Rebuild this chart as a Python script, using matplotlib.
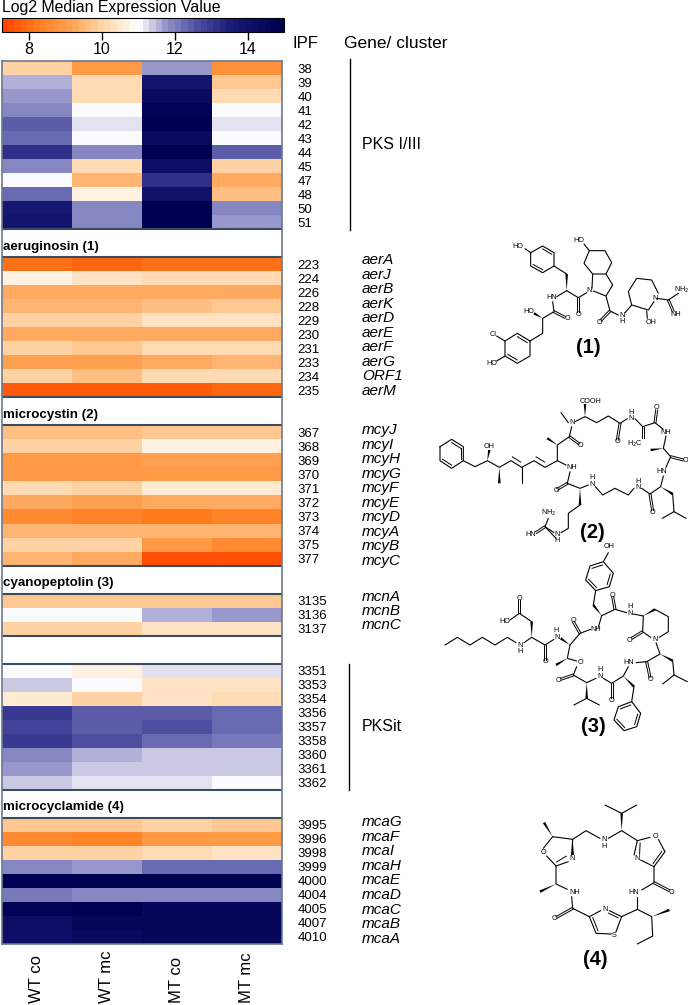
import numpy as np
import matplotlib
matplotlib.use("Agg")
import matplotlib.pyplot as plt
from matplotlib.colors import LinearSegmentedColormap, Normalize

plt.rcParams['font.family'] = ['Liberation Sans', 'DejaVu Sans']

conditions = ['WT co', 'WT mc', 'MT co', 'MT mc']

ipf_pks = ['38', '39', '40', '41', '42', '43', '44', '45', '47', '48', '50', '51']
pks = [[9.95, 9.0, 11.7, 8.7],
       [11.55, 10.1, 13.9, 9.8],
       [11.65, 10.1, 14.3, 10.2],
       [11.95, 11.0, 14.8, 11.0],
       [12.5, 11.2, 14.9, 11.2],
       [12.35, 11.0, 14.4, 11.0],
       [13.1, 11.9, 15.0, 12.4],
       [11.9, 10.2, 14.2, 10.0],
       [11.0, 9.4, 13.2, 9.3],
       [12.2, 10.6, 14.0, 9.7],
       [13.6, 11.9, 15.0, 11.9],
       [13.9, 12.0, 15.0, 11.7]]

ipf_aer = ['223', '224', '226', '228', '229', '230', '231', '233', '234', '235']
genes_aer = ['aerA', 'aerJ', 'aerB', 'aerK', 'aerD', 'aerE', 'aerF', 'aerG', 'ORF1', 'aerM']
aer = [[8.0, 7.9, 8.0, 8.0],
       [10.7, 10.4, 10.15, 10.15],
       [9.25, 9.2, 9.3, 9.3],
       [9.5, 9.5, 9.6, 9.75],
       [10.0, 9.95, 10.4, 10.4],
       [9.25, 9.2, 9.35, 9.35],
       [9.9, 9.8, 10.15, 10.15],
       [9.15, 9.15, 9.3, 9.4],
       [9.9, 9.7, 10.2, 10.2],
       [7.7, 7.7, 7.7, 7.8]]

ipf_mcy = ['367', '368', '369', '370', '371', '372', '373', '374', '375', '377']
genes_mcy = ['mcyJ', 'mcyI', 'mcyH', 'mcyG', 'mcyF', 'mcyE', 'mcyD', 'mcyA', 'mcyB', 'mcyC']
mcy = [[9.7, 9.55, 9.8, 9.8],
       [10.0, 10.0, 10.7, 10.7],
       [8.95, 8.9, 9.1, 9.1],
       [8.9, 8.9, 8.95, 8.9],
       [10.1, 9.9, 10.5, 10.45],
       [9.3, 9.1, 9.35, 9.35],
       [8.5, 8.4, 8.2, 8.4],
       [9.45, 9.45, 9.4, 9.4],
       [10.0, 10.0, 8.9, 8.6],
       [9.5, 9.35, 7.5, 7.5]]

ipf_mcn = ['3135', '3136', '3137']
genes_mcn = ['mcnA', 'mcnB', 'mcnC']
mcn = [[9.85, 9.85, 9.85, 9.85],
       [11.0, 11.0, 11.55, 11.7],
       [9.9, 9.9, 10.25, 10.25]]

ipf_pksit = ['3351', '3353', '3354', '3356', '3357', '3358', '3360', '3361', '3362']
pksit = [[11.0, 10.75, 11.2, 11.2],
         [11.35, 11.0, 10.4, 10.25],
         [10.45, 10.05, 10.3, 10.1],
         [13.0, 12.5, 12.5, 12.3],
         [12.75, 12.4, 12.55, 12.3],
         [13.0, 12.6, 12.3, 12.15],
         [11.9, 11.55, 11.45, 11.45],
         [11.75, 11.45, 11.45, 11.35],
         [11.3, 11.15, 11.15, 11.0]]

ipf_mca = ['3995', '3996', '3998', '3999', '4000', '4004', '4005', '4007', '4010']
genes_mca = ['mcaG', 'mcaF', 'mcaI', 'mcaH', 'mcaE', 'mcaD', 'mcaC', 'mcaB', 'mcaA']
mca = [[9.8, 9.75, 10.0, 9.85],
       [8.6, 8.4, 8.85, 8.95],
       [10.05, 10.05, 10.1, 10.3],
       [11.85, 11.75, 12.2, 12.3],
       [15.0, 15.0, 15.0, 15.0],
       [12.15, 12.0, 12.0, 12.0],
       [14.8, 14.9, 14.6, 14.6],
       [14.2, 14.5, 14.6, 14.6],
       [14.2, 14.4, 14.5, 14.5]]

blocks = [pks, aer, mcy, mcn, pksit, mca]
block_ipf = [ipf_pks, ipf_aer, ipf_mcy, ipf_mcn, ipf_pksit, ipf_mca]
block_titles = [None, 'aeruginosin (1)', 'microcystin (2)', 'cyanopeptolin (3)', None, 'microcyclamide (4)']
spacer_rows = 2

cmap_stops = [(7.24, '#ff4400'), (8.1, '#ff7a1a'), (9.05, '#ffa050'), (10.0, '#ffd5a8'),
              (11.0, '#ffffff'), (11.8, '#9090c8'), (12.7, '#4a4a9f'), (13.6, '#1a1a78'),
              (15.0, '#000050')]

# chemical structures, in px of a 3x crop: bonds, double bonds, inner lines of
# double bonds in a ring (with the ring centre), wedges, atom labels
struct_1_bonds = [[(302, 68), (338, 48), (372, 68), (372, 108), (338, 128), (302, 108), (302, 68)],
                  [(285, 56), (302, 68)], [(372, 108), (410, 132)], [(410, 182), (380, 200)],
                  [(368, 215), (372, 245), (338, 265), (338, 310), (300, 333)],
                  [(300, 333), (262, 310), (225, 333), (225, 378), (262, 400), (300, 378), (300, 333)],
                  [(200, 318), (225, 333)], [(200, 393), (225, 378)],
                  [(410, 182), (445, 203), (470, 188)],
                  [(486, 175), (488, 132), (528, 132), (548, 165), (528, 198), (490, 183)],
                  [(488, 132), (462, 100), (478, 62), (525, 62), (545, 98), (528, 132)],
                  [(462, 42), (478, 62)],
                  [(528, 198), (540, 243), (565, 255)],
                  [(585, 248), (605, 225), (595, 185), (620, 145), (665, 150), (685, 190)],
                  [(672, 215), (655, 240), (605, 225)],
                  [(650, 243), (652, 265)], [(680, 205), (715, 210), (745, 190)]]
struct_1_doubles = [[(372, 245), (405, 262)], [(445, 203), (445, 245)], [(540, 243), (512, 272)],
                    [(715, 210), (730, 245)]]
struct_1_inner = [[(302, 108), (338, 128), (338, 88)], [(338, 48), (372, 68), (338, 88)],
                  [(262, 310), (300, 333), (262, 355)], [(225, 378), (262, 400), (262, 355)]]
struct_1_wedges = [[(410, 182), (410, 132)], [(338, 265), (312, 250)]]
struct_1_labels = [('HO', 262, 50), ('HO', 445, 30), ('HN', 365, 203), ('HO', 295, 245), ('O', 412, 265),
                   ('O', 445, 252), ('N', 478, 182), ('O', 508, 278), ('N', 575, 255), ('H', 575, 275),
                   ('N', 675, 204), ('OH', 662, 278), ('NH$_2$', 755, 180), ('NH', 738, 253),
                   ('Cl', 188, 312), ('HO', 185, 400)]

struct_2_bonds = [[(30, 650), (65, 628), (100, 650), (100, 692), (65, 715), (30, 692), (30, 650)],
                  [(100, 692), (135, 710), (172, 692), (208, 712), (243, 692), (275, 712), (312, 692),
                   (345, 712), (382, 692), (408, 705)],
                  [(275, 712), (275, 760)], [(382, 692), (382, 645), (418, 620), (425, 590)],
                  [(415, 578), (393, 548)], [(435, 575), (465, 560), (500, 578), (535, 558), (570, 580), (592, 566)],
                  [(615, 566), (638, 590), (675, 578), (700, 598)], [(708, 618), (700, 655), (722, 680), (708, 712)],
                  [(700, 738), (692, 770), (660, 792), (635, 775)], [(612, 775), (595, 795), (555, 775), (518, 795), (496, 770)],
                  [(475, 765), (450, 775), (412, 760), (420, 725)], [(728, 792), (732, 845), (697, 865)],
                  [(732, 845), (768, 865)], [(450, 825), (415, 850), (415, 895), (393, 908)],
                  [(372, 908), (345, 890), (355, 865)], [(345, 890), (378, 925)]]
struct_2_doubles = [[(570, 580), (562, 630)],
                    [(638, 590), (638, 625)], [(675, 578), (680, 540)], [(722, 680), (760, 690)],
                    [(660, 792), (668, 842)], [(412, 760), (382, 778)], [(418, 620), (448, 642)],
                    [(345, 890), (318, 908)]]
struct_2_inner = [[(30, 692), (65, 715), (65, 672)], [(65, 628), (100, 650), (65, 672)],
                  [(100, 650), (100, 692), (65, 672)],
                  [(243, 692), (275, 712), (262, 640)], [(312, 692), (345, 712), (340, 640)]]
struct_2_wedges = [[(172, 692), (178, 660)], [(208, 712), (208, 760)], [(382, 645), (352, 625)],
                   [(465, 560), (465, 522)], [(700, 655), (662, 660)], [(692, 770), (728, 792)],
                   [(450, 775), (450, 825)]]
struct_2_labels = [('OH', 178, 650), ('COOH', 482, 513), ('N', 425, 578), ('NH', 425, 712), ('O', 452, 645),
                   ('N', 603, 566), ('H', 603, 546), ('O', 562, 635), ('O', 680, 533), ('H$_2$C', 615, 642),
                   ('NH', 708, 606), ('O', 765, 690), ('HN', 695, 725), ('N', 625, 773), ('H', 625, 753),
                   ('O', 668, 848), ('N', 487, 762), ('H', 487, 742), ('O', 378, 782), ('NH$_2$', 355, 850),
                   ('HN', 302, 912), ('N', 382, 912), ('H', 382, 932)]

struct_3_bonds = [[(45, 285), (82, 262), (120, 285), (157, 262), (195, 285), (232, 262), (258, 278)],
                  [(282, 278), (305, 262), (345, 285), (372, 268)], [(305, 215), (268, 190), (240, 210)],
                  [(420, 285), (450, 250), (482, 238)], [(505, 232), (515, 197)], [(490, 165), (497, 122)],
                  [(497, 122), (467, 90), (480, 48), (520, 35), (550, 70), (538, 110), (497, 122)],
                  [(520, 35), (535, 8)], [(515, 197), (555, 178), (590, 188)], [(610, 192), (640, 198)],
                  [(675, 178), (715, 200), (715, 245), (688, 262)], [(662, 262), (638, 245), (640, 198)],
                  [(678, 278), (690, 312), (650, 335), (618, 338)], [(728, 332), (732, 375), (698, 402)],
                  [(732, 375), (772, 395)], [(595, 350), (580, 378), (545, 400), (520, 385)], [(612, 410), (605, 455)],
                  [(605, 455), (632, 490), (620, 530), (582, 542), (552, 510), (565, 470), (605, 455)],
                  [(498, 385), (470, 398), (430, 375), (440, 350)], [(470, 445), (432, 465)], [(470, 445), (508, 465)],
                  [(440, 333), (412, 325), (420, 285)]]
struct_3_doubles = [[(268, 190), (268, 150)], [(345, 285), (345, 330)], [(450, 250), (430, 215)],
                    [(555, 178), (548, 140)], [(638, 245), (605, 265)], [(650, 335), (660, 382)],
                    [(545, 400), (545, 445)], [(430, 375), (392, 388)]]
struct_3_inner = [[(480, 48), (520, 35), (508, 80)], [(467, 90), (497, 122), (508, 80)],
                  [(550, 70), (538, 110), (508, 80)],
                  [(632, 490), (620, 530), (592, 500)], [(552, 510), (582, 542), (592, 500)],
                  [(565, 470), (605, 455), (592, 500)]]
struct_3_wedges = [[(305, 262), (305, 215)], [(420, 285), (392, 265)], [(515, 197), (490, 165)],
                   [(640, 198), (675, 178)], [(690, 312), (728, 332)], [(580, 378), (612, 410)],
                   [(470, 398), (470, 445)], [(412, 325), (378, 345)]]
struct_3_labels = [('N', 270, 285), ('H', 270, 305), ('O', 268, 145), ('HO', 225, 215), ('O', 345, 335),
                   ('N', 382, 262), ('H', 378, 242), ('O', 430, 210), ('NH', 498, 238), ('O', 548, 135),
                   ('N', 600, 190), ('H', 600, 170), ('O', 598, 270), ('N', 675, 268), ('HN', 595, 338),
                   ('O', 660, 388), ('N', 510, 378), ('H', 510, 358), ('O', 545, 452), ('O', 385, 390),
                   ('O', 450, 338), ('OH', 537, -12)]

struct_4_bonds = [[(368, 860), (428, 868), (425, 915)], [(415, 935), (378, 948), (350, 918)], [(340, 895), (368, 860)],
                  [(428, 868), (468, 842), (510, 865)], [(535, 865), (575, 842), (622, 872), (660, 862)],
                  [(525, 765), (575, 790), (620, 765)], [(685, 868), (705, 905), (672, 950), (632, 930)],
                  [(612, 915), (622, 872)], [(672, 950), (672, 998), (635, 1020)], [(622, 1040), (622, 1078)],
                  [(622, 1078), (665, 1100), (668, 1158), (622, 1182)], [(622, 1078), (575, 1100), (558, 1145)],
                  [(545, 1152), (498, 1150), (478, 1100), (512, 1082)], [(538, 1082), (575, 1100)],
                  [(478, 1100), (428, 1075), (425, 1040)], [(412, 1018), (378, 1002), (378, 948)]]
struct_4_doubles = [[(672, 998), (718, 1022)], [(428, 1075), (380, 1102)]]
struct_4_inner = [[(378, 948), (415, 925), (385, 895)], [(705, 905), (672, 950), (660, 905)],
                  [(622, 872), (620, 915), (660, 905)],
                  [(478, 1100), (498, 1150), (525, 1115)], [(538, 1082), (575, 1100), (525, 1115)]]
struct_4_wedges = [[(368, 860), (342, 818)], [(428, 868), (428, 915)], [(575, 842), (575, 790)],
                   [(665, 1100), (718, 1080)], [(378, 1002), (330, 1025)]]
struct_4_labels = [('O', 340, 908), ('N', 425, 925), ('N', 522, 868), ('H', 522, 888), ('O', 675, 860),
                   ('N', 622, 925), ('O', 725, 1027), ('HN', 610, 1028), ('N', 525, 1078), ('S', 552, 1155),
                   ('O', 372, 1105), ('NH', 435, 1028)]

structures = [((430, 230), struct_1_bonds, struct_1_doubles, struct_1_inner, struct_1_wedges, struct_1_labels),
              ((430, 230), struct_2_bonds, struct_2_doubles, struct_2_inner, struct_2_wedges, struct_2_labels),
              ((430, 550), struct_3_bonds, struct_3_doubles, struct_3_inner, struct_3_wedges, struct_3_labels),
              ((430, 550), struct_4_bonds, struct_4_doubles, struct_4_inner, struct_4_wedges, struct_4_labels)]

compound_labels = [('(1)', 588, 347), ('(2)', 592, 532), ('(3)', 593, 726), ('(4)', 595, 959)]


def px(origin, p):
    return origin[0] + p[0] / 3, origin[1] + p[1] / 3


def draw_structure(ax, origin, bonds, doubles, inner, wedges, labels):
    for line in bonds:
        pts = np.array([px(origin, p) for p in line])
        ax.plot(pts[:, 0], pts[:, 1], color='k', lw=0.8, solid_capstyle='round')
    for a, b in doubles:
        a, b = np.array(px(origin, a)), np.array(px(origin, b))
        n = np.array([b[1] - a[1], a[0] - b[0]])
        n = n / np.hypot(*n) * 1.0
        for s in (-1, 1):
            ax.plot([a[0] + s * n[0], b[0] + s * n[0]], [a[1] + s * n[1], b[1] + s * n[1]], color='k', lw=0.7)
    for a, b, c in inner:
        a, b, c = np.array(px(origin, a)), np.array(px(origin, b)), np.array(px(origin, c))
        p = a + (c - a) * 0.22
        q = b + (c - b) * 0.22
        ax.plot([p[0], q[0]], [p[1], q[1]], color='k', lw=0.7)
    for a, b in wedges:
        a, b = np.array(px(origin, a)), np.array(px(origin, b))
        n = np.array([b[1] - a[1], a[0] - b[0]])
        n = n / np.hypot(*n) * 1.3
        ax.fill([a[0], b[0] + n[0], b[0] - n[0]], [a[1], b[1] + n[1], b[1] - n[1]], color='k', lw=0)
    for s, x, y in labels:
        x, y = px(origin, (x, y))
        ax.text(x, y, s, fontsize=5.2, ha='center', va='center')


# heatmap matrix, blocks separated by empty rows
rows = []
tick_pos = []
tick_labels = []
spacers = []
title_rows = []
r = 0
for i, b in enumerate(blocks):
    if i > 0:
        spacers.append(r)
        rows.append(np.full((spacer_rows, 4), np.nan))
        r += spacer_rows
    title_rows.append(r)
    rows.append(np.array(b))
    tick_pos += [r + k + 0.5 for k in range(len(b))]
    tick_labels += block_ipf[i]
    r += len(b)
matrix = np.vstack(rows)

W, H = 688, 1005
fig = plt.figure(figsize=(W / 100, H / 100), dpi=100)


def axes_px(x0, y0, x1, y1):
    return fig.add_axes([x0 / W, 1 - y1 / H, (x1 - x0) / W, (y1 - y0) / H])


vmin, vmax = cmap_stops[0][0], cmap_stops[-1][0]
cmap = LinearSegmentedColormap.from_list(
    'expr', [((v - vmin) / (vmax - vmin), c) for v, c in cmap_stops], N=44)
norm = Normalize(vmin, vmax)

ax = axes_px(1.5, 61.5, 282, 943.5)
mesh = ax.pcolormesh(np.arange(5), np.arange(matrix.shape[0] + 1), matrix, cmap=cmap, norm=norm)
ax.set_ylim(matrix.shape[0], 0)
ax.set_xticks([])
ax.yaxis.tick_right()
ax.set_yticks(tick_pos)
ax.set_yticklabels(tick_labels, fontsize=9.5)
ax.tick_params(axis='y', length=0, pad=11)
for s in ax.spines.values():
    s.set_color('#6a7a90')
    s.set_linewidth(1.2)
for s in spacers:
    ax.hlines([s, s + spacer_rows], 0, 4, color='#3c4c60', lw=1.5)
for i, t in enumerate(block_titles):
    if t:
        ax.text(0.02, title_rows[i] - 0.3, t, fontsize=9.6, fontweight='bold', va='bottom', ha='left')

cax = axes_px(1.5, 18, 284, 32)
cb = fig.colorbar(mesh, cax=cax, orientation='horizontal')
cb.set_ticks([8, 10, 12, 14])
cb.ax.tick_params(length=6, width=1, labelsize=11.5, pad=1)
cb.outline.set_linewidth(0.8)

# overlay in pixels for the text and drawings around the heatmap
ov = fig.add_axes([0, 0, 1, 1], zorder=5)
ov.set_xlim(0, W)
ov.set_ylim(H, 0)
ov.axis('off')

ov.text(2, 7, 'Log2 Median Expression Value', fontsize=11.4, va='center', ha='left')
ov.text(293, 43, 'IPF', fontsize=12, va='center', ha='left')
ov.text(344, 43, 'Gene/ cluster', fontsize=12.5, va='center', ha='left')
ov.text(362, 144, 'PKS I/III', fontsize=11.5, va='center', ha='left')
ov.text(362, 726, 'PKSit', fontsize=11.5, va='center', ha='left')
ov.plot([350, 350], [59, 230], color='k', lw=1)
ov.plot([349, 349], [664, 790], color='k', lw=1)

for name, ys in [(genes_aer, (260, 14.5)), (genes_mcy, (430, 14.5)), (genes_mcn, (597, 14.2)), (genes_mca, (822, 14.6))]:
    for i, g in enumerate(name):
        ov.text(362, ys[0] + i * ys[1], g, fontsize=11, style='italic', va='center', ha='left')

for i, c in enumerate(conditions):
    ov.text(1.5 + 70.12 * (i + 0.5), 1003, c, rotation=90, fontsize=12, ha='center', va='bottom')

for origin, bonds, doubles, inner, wedges, labels in structures:
    draw_structure(ov, origin, bonds, doubles, inner, wedges, labels)
for s, x, y in compound_labels:
    ov.text(x, y, s, fontsize=14.5, fontweight='bold', ha='center', va='center')

fig.savefig('out.png', dpi=100)
